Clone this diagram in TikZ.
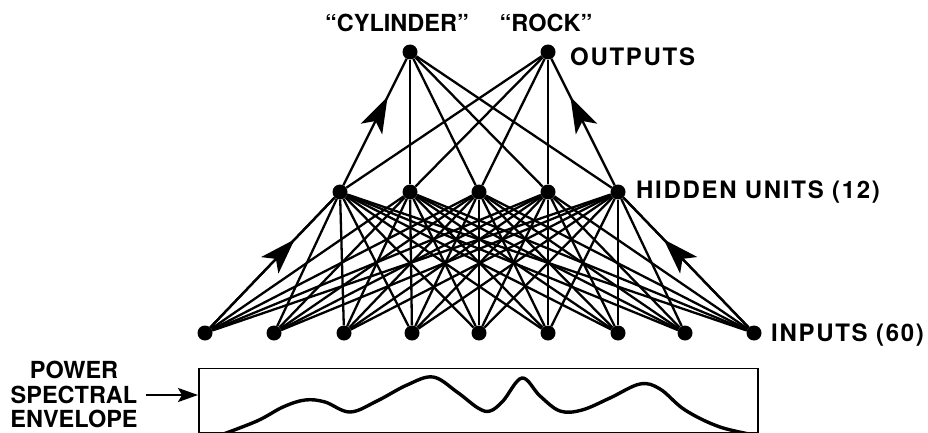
\documentclass[tikz,border=0pt]{standalone}
\usepackage{fontspec}
\newfontfamily\labfont[LetterSpace=7]{TeX Gyre Heros}
\newfontfamily\tightfont{TeX Gyre Heros}
\usetikzlibrary{arrows.meta,decorations.markings}
\tikzset{
  dot/.style={circle,fill=black,inner sep=0pt,minimum size=15pt},
  link/.style={line width=2.3pt},
  midarrow/.style={link,postaction={decorate},decoration={markings,
     mark=at position 0.6 with {\fill[line width=0pt] (-22pt,-12pt) -- (14pt,0pt) -- (-22pt,12pt) -- (-13pt,0pt) -- cycle;}}},
  lab/.style={font=\labfont\bfseries\fontsize{24}{28}\selectfont,inner sep=0pt},
  tlab/.style={font=\tightfont\bfseries\fontsize{23.5}{24.5}\selectfont,inner sep=0pt},
}
\begin{document}
\begin{tikzpicture}[x=1pt,y=-1pt]
\useasboundingbox (0,0) rectangle (928,433);
% outputs
\node[dot] (o1) at (410,52) {};
\node[dot] (o2) at (548,52) {};
% hidden
\foreach \i/\x in {1/340,2/410,3/479,4/548,5/618}
  \node[dot] (h\i) at (\x,192) {};
% inputs
\foreach \i/\x in {1/205,2/274,3/344,4/412,5/479,6/548,7/618,8/685,9/754}
  \node[dot] (i\i) at (\x,333) {};
% hidden -> outputs
\foreach \h in {2,3,4,5} \draw[link] (h\h) -- (o1);
\foreach \h in {1,2,3,4} \draw[link] (h\h) -- (o2);
\draw[midarrow] (h1) -- (o1);
\draw[midarrow] (h5) -- (o2);
% inputs -> hidden
\foreach \h in {1,...,5}
  \foreach \n in {1,...,9}
    \draw[link] (i\n) -- (h\h);
\draw[midarrow] (i1) -- (h1);
\draw[midarrow] (i9) -- (h5);
% labels
\node[tlab] (cyl) at (397,23) {“CYLINDER”};
\node[tlab] (rock) at (546,23) {“ROCK”};
\node[lab,anchor=west] (outl) at (570,57) {OUTPUTS};
\node[lab,anchor=west] (hidl) at (636,192) {HIDDEN UNITS (12)};
\node[lab,anchor=west] (inl) at (771,335) {INPUTS (60)};
% spectral box
\node[draw,line width=1.5pt,minimum width=559pt,minimum height=64pt,inner sep=0pt,anchor=north west] (box) at (198,367.5) {};
\begin{scope}
\clip (box.south west) rectangle (box.north east);
\draw[line width=3.4pt,line join=round] plot[smooth,tension=0.6] coordinates {
 (218,436) (257,421) (283,407) (305,400) (325,402) (350,412) (377,401)
 (407,385) (433,377) (457,392) (478,408) (490,411) (503,401) (522,378)
 (540,396) (560,411) (582,410) (610,398) (640,384) (660,389) (685,410)
 (720,427) (760,436)};
\end{scope}
\node[tlab,align=center,anchor=north] (pse) at (74,361) {POWER\\SPECTRAL\\ENVELOPE};
\coordinate (arrs) at (146,395);
\draw[line width=2.2pt,-{Stealth[length=20pt,width=14pt,inset=4pt]}] (arrs) -- (box.west |- arrs);
\end{tikzpicture}
\end{document}
